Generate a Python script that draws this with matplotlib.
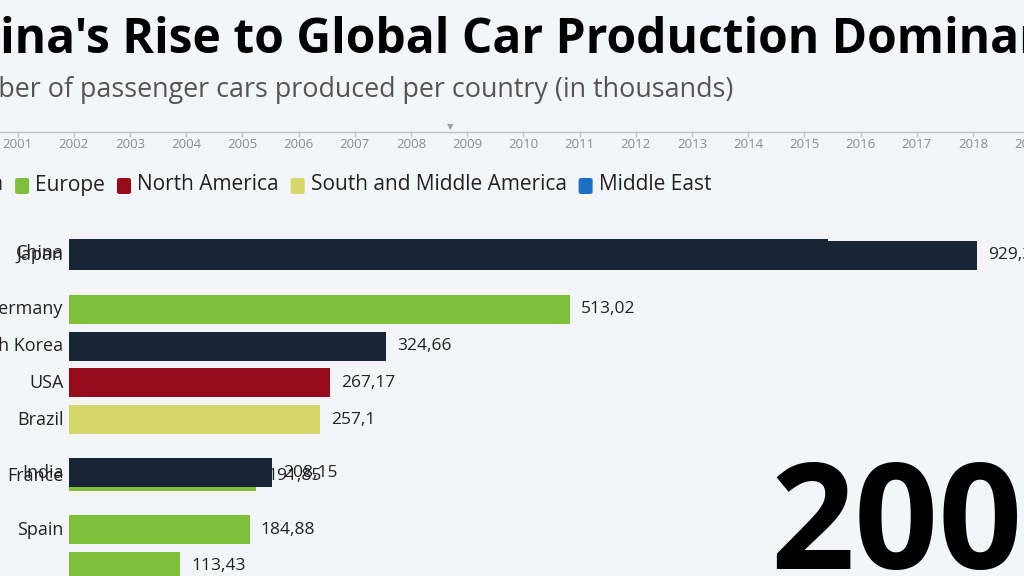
import matplotlib.pyplot as plt
from matplotlib.patches import FancyBboxPatch

plt.rcParams['font.family'] = ['Open Sans', 'DejaVu Sans']

# bar chart race frame (values in thousands), drawn back to front
countries = ['China', 'Japan', 'Germany', 'South Korea', 'USA', 'Brazil',
             'France', 'India', 'Spain', '']
values = [777.0, 929.35, 513.02, 324.66, 267.17, 257.1, 191.85, 208.15, 184.88, 113.43]
regions = ['Asia', 'Asia', 'Europe', 'Asia', 'North America',
           'South and Middle America', 'Europe', 'Asia', 'Europe', 'Europe']
# animated rank of each bar in this frame (fractional = moving)
ranks = [0.47, 0.52, 2, 3, 4, 5, 6.55, 6.45, 8, 9]

legend_regions = ['Asia', 'Europe', 'North America', 'South and Middle America', 'Middle East']
region_colors = {'Asia': '#172536', 'Europe': '#7ec03a', 'North America': '#980b1c',
                 'South and Middle America': '#d5d76b', 'Middle East': '#1d6fc6'}

timeline_years = list(range(2000, 2020))
current_time = 2008.69
year_label = '2008'

W, H = 1024, 576
bg = '#f3f5f8'
fig = plt.figure(figsize=(W / 100, H / 100), dpi=100, facecolor=bg)
renderer = fig.canvas.get_renderer()


def fx(px):
    return px / W


def fy(py):
    return 1 - py / H


def text_width(s, **kw):
    t = fig.text(0, 0, s, **kw)
    w = t.get_window_extent(renderer).width
    t.remove()
    return w


# title: scale so "Rise" starts near x=123 and "Dominance" near x=833
title = "China's Rise to Global Car Production Dominance"
tkw = dict(fontweight='bold')
w_a = text_width("China's ", fontsize=30, **tkw)
w_b = text_width("China's Rise to Global Car Production ", fontsize=30, **tkw)
tsize = 30 * 710 / (w_b - w_a)
w_a *= tsize / 30
fig.text(fx(123 - w_a), fy(53), title, ha='left', va='baseline',
         fontsize=tsize, color='#000000', **tkw)
fig.text(fx(733), fy(97), 'Number of passenger cars produced per country (in thousands)',
         ha='right', va='baseline', fontsize=19.4, color='#555555')

# timeline
ax_t = fig.add_axes([0, fy(160), 1, 40 / H])
ax_t.set_facecolor('none')
ax_t.set_xlim(2001 - 17.6 / 56.2, 2001 + (W - 17.6) / 56.2)
ax_t.set_ylim(0, 1)
ax_t.axis('off')
ax_t.axhline(0.7, color='#bfc3c8', lw=1)
for yr in timeline_years:
    ax_t.plot([yr, yr], [0.7, 0.6], color='#bfc3c8', lw=1)
    ax_t.text(yr, 0.38, str(yr), ha='center', va='center', fontsize=9.5, color='#8a8d91')
ax_t.text(current_time, 0.84, '▼', ha='center', va='center', fontsize=6,
          color='#9a9da1', family=['DejaVu Sans'])

# legend
lx = -57
for reg in legend_regions:
    fig.patches.append(FancyBboxPatch((fx(lx), fy(194)), fx(14), 16 / H,
                                      boxstyle='round,pad=0,rounding_size=0.003',
                                      transform=fig.transFigure,
                                      facecolor=region_colors[reg], edgecolor='none'))
    t = fig.text(fx(lx + 20), fy(185), reg, ha='left', va='center',
                 fontsize=15, color='#222222')
    bb = t.get_window_extent(renderer)
    lx = bb.x1 + 12

# bars
ax = fig.add_axes([fx(69), 0, 1 - fx(69), fy(220)])
ax.set_facecolor('none')
ax.set_xlim(0, (W - 69) / 0.977)
ax.set_ylim(9.26, -0.436)
ax.axis('off')

for i, (name, v, reg, r) in enumerate(zip(countries, values, regions, ranks)):
    ax.barh(r, v, height=0.79, color=region_colors[reg], zorder=2 + i)
    ax.annotate(name, xy=(0, r), xytext=(-4, 0), textcoords='offset points',
                ha='right', va='center', fontsize=13, color='#222222', zorder=2 + i)
    lab = f'{v:.2f}'.rstrip('0').rstrip('.').replace('.', ',')
    ax.annotate(lab, xy=(v, r), xytext=(8, 0), textcoords='offset points',
                ha='left', va='center', fontsize=12.5, color='#222222', zorder=1 + i)

# big year counter
fig.text(fx(770), fy(569), year_label, ha='left', va='baseline', fontsize=106,
         fontweight='bold', color='#000000')

fig.savefig('out.png', dpi=100, facecolor=bg)
